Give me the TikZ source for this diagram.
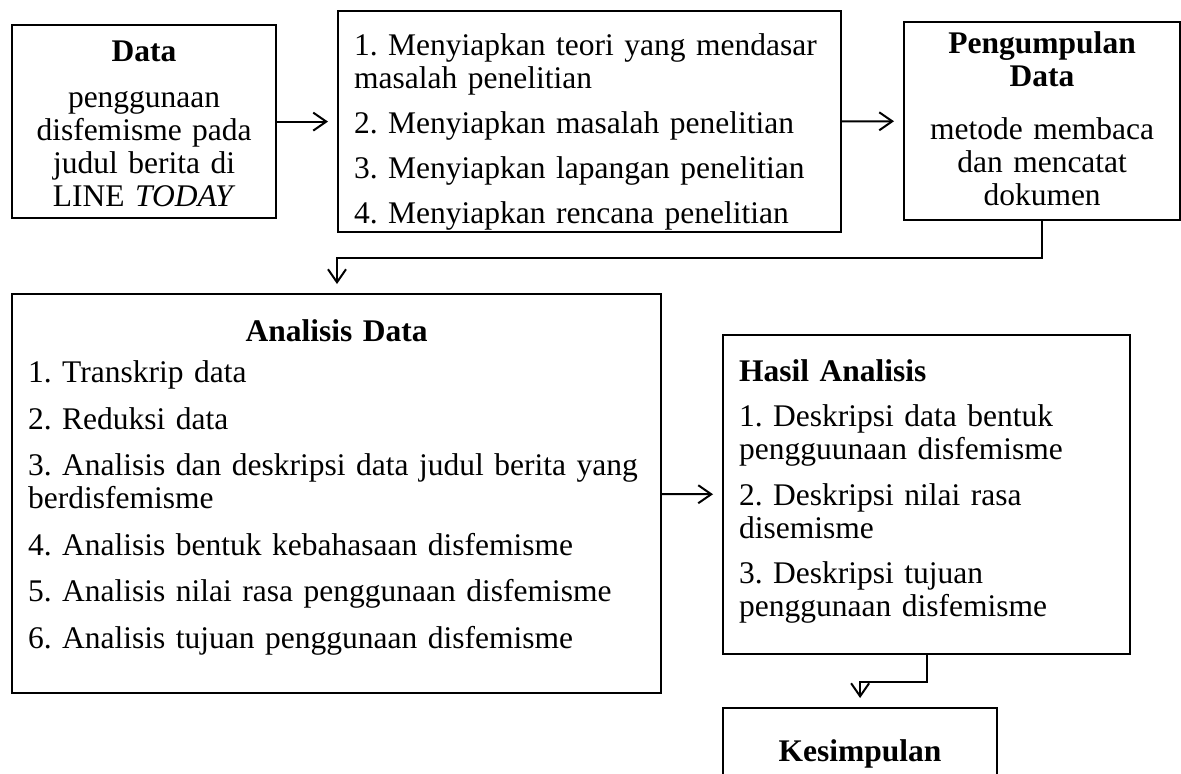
\documentclass[tikz,border=0pt]{standalone}
\usepackage{fontspec}
\setmainfont{Liberation Serif}
\usetikzlibrary{arrows.meta}
\frenchspacing
\hyphenpenalty=10000

\tikzset{
  box/.style={draw, line width=1.1pt, anchor=north west, align=left,
    inner xsep=8pt, inner ysep=0pt, font=\fontsize{15.75}{16.5}\selectfont},
  flow/.style={line width=1pt, -{Straight Barb[length=6.5pt,width=9pt]}, shorten >=4.5pt},
}

\begin{document}
\begin{tikzpicture}[x=0.5pt, y=-0.5pt]
  \useasboundingbox (0,0) rectangle (1181,773);
  \clip (0,0) rectangle (1181,773);

  % baris atas
  \node [box, align=center, text width=116pt, text height=18pt, text depth=78.5pt] (data) at (11,24)
    {\textbf{Data}\\[6.5pt] penggunaan\\ disfemisme pada\\ judul berita di\\ LINE \textit{TODAY}};
  \node [box, text width=235.5pt, text height=22pt, text depth=88.5pt] (persiapan) at (337,10)
    {1. Menyiapkan teori yang mendasar\\ masalah penelitian\\[6pt]
     2. Menyiapkan masalah penelitian\\[6pt]
     3. Menyiapkan lapangan penelitian\\[6pt]
     4. Menyiapkan rencana penelitian};
  \node [box, align=center, text width=122pt, text height=15.5pt, text depth=83.5pt] (pengumpulan) at (903,21)
    {\textbf{Pengumpulan}\\ \textbf{Data}\\[10pt] metode membaca\\ dan mencatat\\ dokumen};

  % baris bawah
  \node [box, text width=308.5pt, text height=23.5pt, text depth=176pt] (analisis) at (11,293)
    {\makebox[\linewidth]{\textbf{Analisis Data}}\\[4.25pt]
     1. Transkrip data\\[6.75pt]
     2. Reduksi data\\[6.75pt]
     3. Analisis dan deskripsi data judul berita yang\\ berdisfemisme\\[6.75pt]
     4. Analisis bentuk kebahasaan disfemisme\\[6.75pt]
     5. Analisis nilai rasa penggunaan disfemisme\\[6.75pt]
     6. Analisis tujuan penggunaan disfemisme};
  \node [box, text width=187.5pt, text height=23pt, text depth=136.5pt] (hasil) at (722,334)
    {\textbf{Hasil Analisis}\\[6.25pt]
     1. Deskripsi data bentuk\\ pengguunaan disfemisme\\[6.25pt]
     2. Deskripsi nilai rasa\\ disemisme\\[6.25pt]
     3. Deskripsi tujuan\\ penggunaan disfemisme};
  \node [box, align=center, text width=121pt, text height=26.5pt, text depth=20pt] (kesimpulan) at (722,707)
    {\textbf{Kesimpulan}};

  \draw [flow] (data) -- (persiapan);
  \draw [flow] (persiapan) -- (pengumpulan);
  \draw [flow] (pengumpulan.south) -- ++(0,37) -| (analisis.north -| persiapan.west);
  \draw [flow] (analisis) -- (hasil);
  \draw [flow] (hasil.south) -- ++(0,27) -| (kesimpulan.north);
\end{tikzpicture}
\end{document}
